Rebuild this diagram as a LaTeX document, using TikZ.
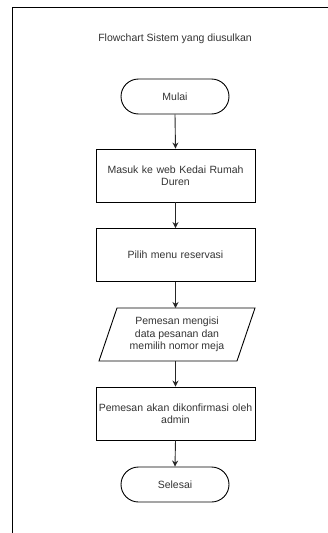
\documentclass[tikz,border=0pt]{standalone}
\usepackage{fontspec}
\setmainfont{Liberation Sans}
\usetikzlibrary{arrows.meta,shapes.geometric}
\definecolor{txt}{HTML}{333333}
\begin{document}
\begin{tikzpicture}[x=1pt,y=-1pt,
  every node/.style={font=\fontsize{10.5}{12.5}\selectfont,text=txt},
  proc/.style={draw=black,line width=0.9pt,minimum width=159pt,minimum height=53pt,inner sep=1pt,align=center,text width=157pt},
  term/.style={draw=black,line width=0.9pt,rounded corners=17.5pt,minimum width=108pt,minimum height=35pt,align=center},
  conn/.style={draw=black!85,line width=0.9pt,-{Stealth[length=6pt,width=6pt]}}
]
\useasboundingbox (0,0) rectangle (328,533);
\draw[line width=1pt,black] (12,533) -- (12,7) -- (328,7);
\node (title) at (175,39) {Flowchart Sistem yang diusulkan};
\node[term] (mulai) at (175,96.5) {Mulai};
\node[proc] (masuk) at (175.5,175.5) {Masuk ke web Kedai Rumah\\Duren};
\node[proc] (pilih) at (175.5,255) {Pilih menu reservasi};
\coordinate (pA) at (117,308);
\coordinate (pB) at (255,308);
\coordinate (pC) at (237,361);
\coordinate (pD) at (99,361);
\draw[line width=0.9pt,black] (pA) -- (pB) -- (pC) -- (pD) -- cycle;
\node[align=center] (isi) at (177,334.5) {Pemesan mengisi\\data pesanan dan\\memilih nomor meja};
\coordinate (isiTop) at (175.5,308);
\coordinate (isiBot) at (175.5,361);
\node[proc] (konf) at (175.5,413.5) {Pemesan akan dikonfirmasi oleh\\admin};
\node[term] (selesai) at (175,484.5) {Selesai};
\draw[conn] (mulai.south) -- (masuk.north);
\draw[conn] (masuk.south) -- (pilih.north);
\draw[conn] (pilih.south) -- (isiTop);
\draw[conn] (isiBot) -- (konf.north);
\draw[conn] (konf.south) -- (selesai.north);
\end{tikzpicture}
\end{document}
